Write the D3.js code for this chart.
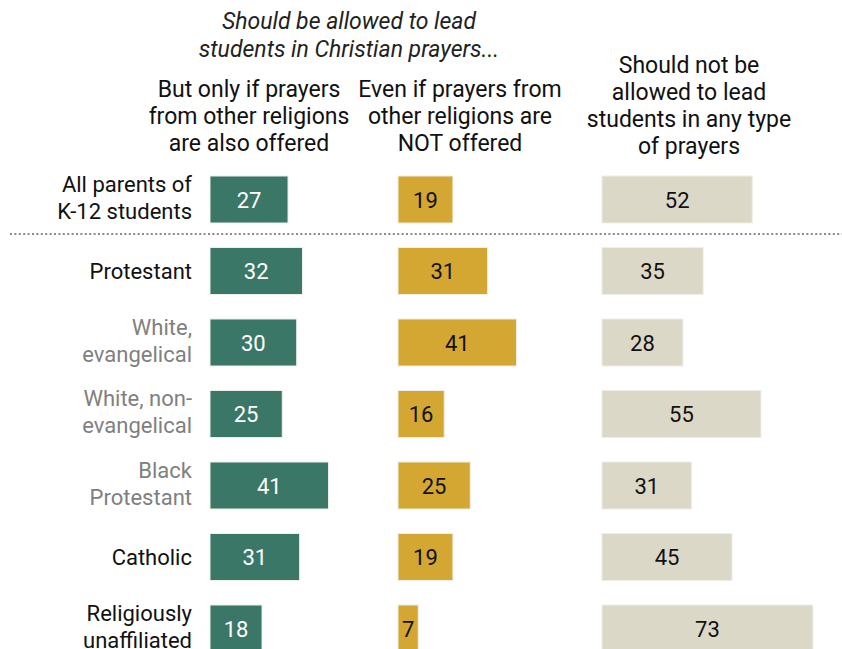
<!DOCTYPE html>
<html>
<head>
<meta charset="utf-8">
<script src="https://cdn.jsdelivr.net/npm/d3@7"></script>
<style>
  body { margin: 0; background: #fff; }
  text { font-family: "Roboto", "Liberation Sans", sans-serif; }
</style>
</head>
<body>
<svg id="chart" width="842" height="649"></svg>
<script>
// data
var groups = [
  ["All parents of", "K-12 students"],
  ["Protestant"],
  ["White,", "evangelical"],
  ["White, non-", "evangelical"],
  ["Black", "Protestant"],
  ["Catholic"],
  ["Religiously", "unaffiliated"]
];
var subGroup = [false, false, true, true, true, false, false];
var onlyIfOthers = [27, 32, 30, 25, 41, 31, 18];
var evenIfNot = [19, 31, 41, 16, 25, 19, 7];
var shouldNot = [52, 35, 28, 55, 31, 45, 73];

var columnHeads = [
  ["But only if prayers", "from other religions", "are also offered"],
  ["Even if prayers from", "other religions are", "NOT offered"],
  ["Should not be", "allowed to lead", "students in any type", "of prayers"]
];
var topTitle = ["Should be allowed to lead", "students in Christian prayers..."];

var svg = d3.select("#chart");

var series = [
  { values: onlyIfOthers, x0: 210, fill: "#3b7766", text: "#fff" },
  { values: evenIfNot, x0: 398, fill: "#d3a732", text: "#111" },
  { values: shouldNot, x0: 602, fill: "#dcd8c7", text: "#111" }
];

var step = 71.5, barH = 47;
var x = d3.scaleLinear().domain([0, 100]).range([0, 289]);
var y = d3.scaleBand().domain(d3.range(groups.length))
  .range([176, 176 + step * groups.length - (step - barH)])
  .paddingInner((step - barH) / step).paddingOuter(0);

// title
svg.append("text")
  .attr("x", 349).attr("y", 29)
  .attr("text-anchor", "middle")
  .attr("font-size", 23).attr("font-style", "italic").attr("fill", "#222")
  .selectAll("tspan").data(topTitle).enter().append("tspan")
  .attr("x", 349).attr("dy", function (d, i) { return i ? 28 : 0; })
  .text(function (d) { return d; });

var headX = [249, 460, 689];
var headY = [97, 97, 73];
columnHeads.forEach(function (lines, c) {
  svg.append("text")
    .attr("x", headX[c]).attr("y", headY[c])
    .attr("text-anchor", "middle")
    .attr("font-size", 23).attr("fill", "#111")
    .selectAll("tspan").data(lines).enter().append("tspan")
    .attr("x", headX[c]).attr("dy", function (d, i) { return i ? 27 : 0; })
    .text(function (d) { return d; });
});

// row labels
groups.forEach(function (lines, i) {
  var cy = y(i) + y.bandwidth() / 2;
  var startY = lines.length > 1 ? cy - 8 : cy + 8;
  svg.append("text")
    .attr("x", 192).attr("y", startY)
    .attr("text-anchor", "end")
    .attr("font-size", 22)
    .attr("fill", subGroup[i] ? "#808080" : "#111")
    .selectAll("tspan").data(lines).enter().append("tspan")
    .attr("x", 192).attr("dy", function (d, j) { return j ? 27 : 0; })
    .text(function (d) { return d; });
});

// bars
series.forEach(function (s) {
  var g = svg.append("g");
  g.selectAll("rect").data(s.values).enter().append("rect")
    .attr("x", s.x0)
    .attr("y", function (d, i) { return y(i); })
    .attr("width", function (d) { return x(d); })
    .attr("height", y.bandwidth())
    .attr("fill", s.fill)
    .attr("stroke", "#eeeee6").attr("stroke-width", 1);
  g.selectAll("text").data(s.values).enter().append("text")
    .attr("x", function (d) { return s.x0 + x(d) / 2; })
    .attr("y", function (d, i) { return y(i) + y.bandwidth() / 2 + 8; })
    .attr("text-anchor", "middle")
    .attr("font-size", 22)
    .attr("fill", s.text)
    .text(function (d) { return d; });
});

// dotted separator
svg.append("line")
  .attr("x1", 10).attr("x2", 842)
  .attr("y1", 234).attr("y2", 234)
  .attr("stroke", "#8a8a8a").attr("stroke-width", 2)
  .attr("stroke-dasharray", "2,2.4");
</script>
</body>
</html>
